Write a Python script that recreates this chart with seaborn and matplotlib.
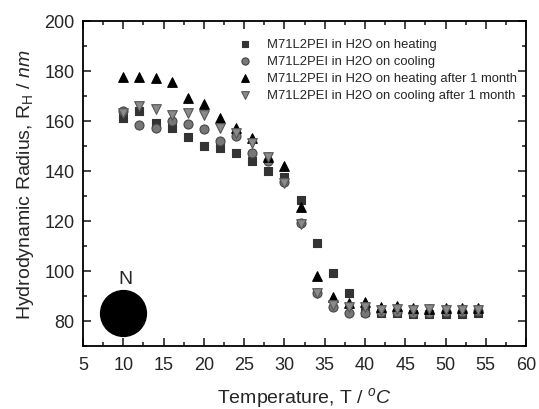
import numpy as np
import pandas as pd
import matplotlib
matplotlib.use("Agg")
import matplotlib.pyplot as plt
import seaborn as sns
from matplotlib.ticker import MultipleLocator

temps = [10, 12, 14, 16, 18, 20, 22, 24, 26, 28, 30, 32, 34, 36, 38, 40, 42, 44, 46, 48, 50, 52, 54]
heating = [161.3, 164.0, 159.3, 157.3, 153.6, 150.0, 149.0, 147.3, 144.0, 140.0, 137.6, 128.3, 111.0, 99.3, 91.0,
           83.5, 83.3, 83.0, 82.8, 82.7, 82.8, 82.7, 83.0]
cooling = [164.0, 158.3, 157.3, 160.0, 158.8, 156.7, 151.8, 153.8, 147.0, 143.8, 135.5, 119.3, 91.3, 85.6, 83.3,
           83.3, 83.6, 83.5, 83.0, 83.2, 83.4, 83.5, 83.8]
heating_1m = [177.7, 177.5, 177.0, 175.6, 169.3, 166.7, 161.3, 157.0, 153.0, 145.7, 142.0, 125.7, 98.0, 89.4, 87.0,
              87.4, 85.6, 86.0, 85.0, 84.8, 85.0, 85.0, 85.2]
cooling_1m = [163.0, 166.0, 164.7, 162.3, 163.0, 162.3, 157.0, 155.0, 151.0, 145.6, 135.3, 118.7, 91.0, 86.3, 85.6,
              85.6, 84.5, 84.8, 84.3, 84.6, 84.2, 84.5, 84.5]
labels = ["M71L2PEI in H2O on heating", "M71L2PEI in H2O on cooling",
          "M71L2PEI in H2O on heating after 1 month", "M71L2PEI in H2O on cooling after 1 month"]
series = [heating, cooling, heating_1m, cooling_1m]

rows = []
for lab, vals in zip(labels, series):
    for t, v in zip(temps, vals):
        rows.append({"T": t, "R": v, "series": lab})
df = pd.DataFrame(rows)

sns.set_style("ticks")
plt.rcParams['font.family'] = ['Liberation Sans', 'DejaVu Sans']
plt.rcParams['mathtext.fontset'] = 'custom'
plt.rcParams['mathtext.rm'] = 'Liberation Sans'
plt.rcParams['mathtext.it'] = 'Liberation Sans:italic'

fig = plt.figure(figsize=(5.39, 4.10), dpi=100)
ax = fig.add_axes([0.154, 0.154, 0.822, 0.793])

markers = ["s", "o", "^", "v"]
faces = ["#333333", "#777777", "#000000", "#8a8a8a"]
edges = ["#333333", "#444444", "#000000", "#555555"]
sizes = [38, 42, 48, 48]
for lab, m, fc, ec, s in zip(labels, markers, faces, edges, sizes):
    sub = df[df["series"] == lab]
    sns.scatterplot(data=sub, x="T", y="R", marker=m, color=fc, edgecolor=ec, linewidth=0.8,
                    s=s, ax=ax, label=lab, zorder=3)

# N marker
ax.plot([10], [83], marker="o", markersize=33, color="black", linestyle="none", zorder=4)
ax.text(10.3, 93.5, "N", ha="center", va="bottom", fontsize=14)

ax.set_xlim(5, 60)
ax.set_ylim(70, 200)
ax.xaxis.set_major_locator(MultipleLocator(5))
ax.xaxis.set_minor_locator(MultipleLocator(2.5))
ax.yaxis.set_major_locator(MultipleLocator(20))
ax.yaxis.set_minor_locator(MultipleLocator(10))
ax.set_yticks([80, 100, 120, 140, 160, 180, 200])
ax.tick_params(which="both", direction="in", top=True, right=True, labelsize=13, width=1.2)
ax.tick_params(which="major", length=6, pad=6)
ax.tick_params(axis="x", which="major", pad=7)
ax.tick_params(which="minor", length=3)
for sp in ax.spines.values():
    sp.set_linewidth(1.3)
    sp.set_color("black")

ax.set_xlabel("Temperature, T / $^{o}\\it{C}$", fontsize=14, labelpad=9)
ax.set_ylabel("Hydrodynamic Radius, R$_{\\rm H}$ / $\\it{nm}$", fontsize=14, labelpad=6)

leg = ax.legend(loc="upper right", bbox_to_anchor=(1.0, 0.975), frameon=False, fontsize=9.4,
                handletextpad=0.7, labelspacing=0.38, markerscale=0.8, borderaxespad=0.3)

fig.savefig("out.png", dpi=100)
